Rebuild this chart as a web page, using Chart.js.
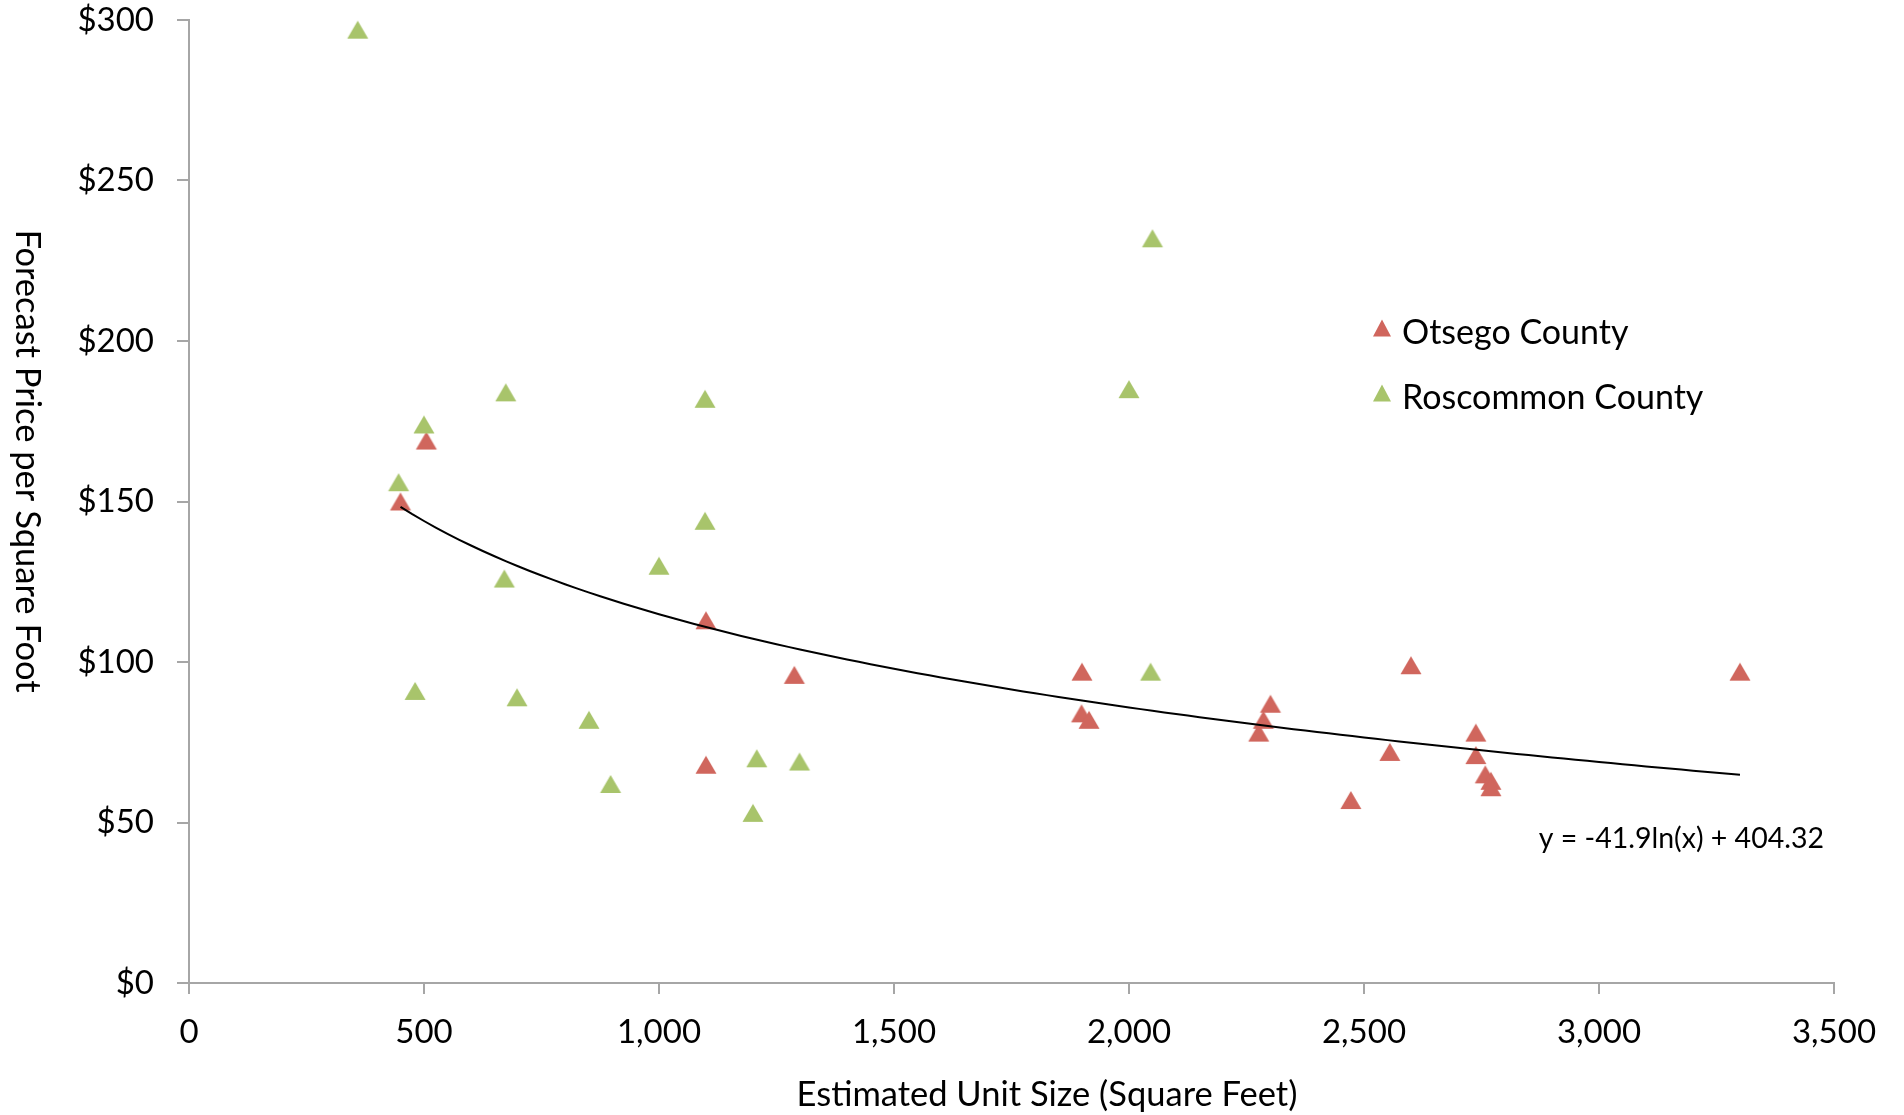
<!DOCTYPE html>
<html>
<head>
<meta charset="utf-8">
<title>Forecast Price per Square Foot</title>
<script src="https://cdn.jsdelivr.net/npm/chart.js@4.4.1/dist/chart.umd.min.js"></script>
<style>
  html, body { margin: 0; padding: 0; background: #fff; }
  #wrap { width: 1904px; height: 1115px; position: relative; }
</style>
</head>
<body>
<div id="wrap"><canvas id="chart"></canvas></div>
<script>
// Otsego County: estimated unit size (sq ft) and forecast price per sq ft
const otsegoSize  = [450, 505, 1100, 1100, 1288, 1900, 1899, 1915, 2276, 2286, 2301, 2472, 2555, 2600, 2738, 2738, 2758, 2770, 2770, 3300];
const otsegoPrice = [150, 169, 113, 68, 96, 97, 84, 82, 78, 82, 87, 57, 72, 99, 78, 71, 65, 63, 61, 97];

// Roscommon County
const roscommonSize  = [359, 446, 481, 500, 671, 674, 698, 851, 897, 1000, 1098, 1098, 1200, 1208, 1299, 2000, 2046, 2050];
const roscommonPrice = [297, 156, 91, 174, 126, 184, 89, 82, 62, 130, 182, 144, 53, 70, 69, 185, 97, 232];

// log trendline printed on the chart: y = -41.9ln(x) + 404.32
const trendSlope = -41.9;
const trendIntercept = 404.32;
const trendFrom = 450;
const trendTo = 3300;

const xTicks = [0, 500, 1000, 1500, 2000, 2500, 3000, 3500];
const yTicks = [0, 50, 100, 150, 200, 250, 300];

const seriesNames = ['Otsego County', 'Roscommon County'];
const RED = '#d0665d';
const GREEN = '#a8c46b';
const AXIS = '#a6a6a6';
const FONT = 'Lato, "Open Sans", sans-serif';

function toPoints(xs, ys) {
    return xs.map((x, i) => ({ x: x, y: ys[i] }));
}

const trendPoints = [];
for (let x = trendFrom; x < trendTo; x += 25) {
    trendPoints.push({ x: x, y: trendSlope * Math.log(x) + trendIntercept });
}
trendPoints.push({ x: trendTo, y: trendSlope * Math.log(trendTo) + trendIntercept });

// triangle centred on its bounding box, like the spreadsheet marker
function triangle(ctx, cx, cy, w, h, color) {
    ctx.beginPath();
    ctx.moveTo(cx, cy - h / 2);
    ctx.lineTo(cx + w / 2, cy + h / 2);
    ctx.lineTo(cx - w / 2, cy + h / 2);
    ctx.closePath();
    ctx.fillStyle = color;
    ctx.fill();
}

function markerImage(color) {
    const c = document.createElement('canvas');
    c.width = 24;
    c.height = 24;
    triangle(c.getContext('2d'), 12, 12, 21, 18, color);
    return c;
}

// titles, legend and the trendline equation
const extras = {
    id: 'extras',
    afterDraw(chart) {
        const ctx = chart.ctx;
        const area = chart.chartArea;
        ctx.save();
        ctx.fillStyle = '#000';
        ctx.textBaseline = 'alphabetic';

        ctx.font = '34.5px ' + FONT;
        ctx.textAlign = 'center';
        ctx.fillText('Estimated Unit Size (Square Feet)', 1047, 1106);

        ctx.save();
        ctx.translate(16, 461);
        ctx.rotate(Math.PI / 2);
        ctx.fillText('Forecast Price per Square Foot', 0, 0);
        ctx.restore();

        // legend
        ctx.font = '34px ' + FONT;
        ctx.textAlign = 'left';
        const colors = [RED, GREEN];
        seriesNames.forEach((name, i) => {
            const cy = 332 + i * 65;
            triangle(ctx, 1382, cy - 4, 18, 17, colors[i]);
            ctx.fillStyle = '#000';
            ctx.fillText(name, 1402, cy + 12);
        });

        // equation
        ctx.font = '28.5px ' + FONT;
        ctx.textAlign = 'right';
        ctx.fillText('y = -41.9ln(x) + 404.32', area.right - 10, 848);
        ctx.restore();
    }
};

const ctx = document.getElementById('chart').getContext('2d');
new Chart(ctx, {
    type: 'scatter',
    data: {
        datasets: [
            {
                label: 'Trend',
                data: trendPoints,
                showLine: true,
                borderColor: '#000',
                borderWidth: 2,
                pointRadius: 0,
                fill: false,
                order: 0
            },
            {
                label: seriesNames[1],
                data: toPoints(roscommonSize, roscommonPrice),
                pointStyle: markerImage(GREEN),
                pointRadius: 12,
                order: 1
            },
            {
                label: seriesNames[0],
                data: toPoints(otsegoSize, otsegoPrice),
                pointStyle: markerImage(RED),
                pointRadius: 12,
                order: 2
            }
        ]
    },
    options: {
        responsive: true,
        maintainAspectRatio: false,
        animation: false,
        layout: { padding: { top: 0, right: 70, left: 0, bottom: 0 } },
        plugins: {
            legend: { display: false },
            tooltip: { enabled: false }
        },
        scales: {
            x: {
                type: 'linear',
                min: 0,
                max: 3500,
                afterBuildTicks: s => { s.ticks = xTicks.map(v => ({ value: v })); },
                afterFit: s => { s.height = 132; },
                ticks: {
                    color: '#000',
                    font: { family: FONT, size: 33 },
                    padding: 19,
                    maxRotation: 0,
                    callback: v => v.toLocaleString('en-US')
                },
                grid: { drawOnChartArea: false, drawTicks: true, tickLength: 11, color: AXIS, lineWidth: 2 },
                border: { display: true, color: AXIS, width: 2 }
            },
            y: {
                min: 0,
                max: 300,
                afterBuildTicks: s => { s.ticks = yTicks.map(v => ({ value: v })); },
                afterFit: s => { s.width = 189; s.paddingTop = 20; s.paddingBottom = 0; },
                ticks: {
                    color: '#000',
                    font: { family: FONT, size: 33 },
                    padding: 23,
                    callback: v => '$' + v
                },
                grid: { drawOnChartArea: false, drawTicks: true, tickLength: 12, color: AXIS, lineWidth: 2 },
                border: { display: true, color: AXIS, width: 2 }
            }
        }
    },
    plugins: [extras]
});
</script>
</body>
</html>
